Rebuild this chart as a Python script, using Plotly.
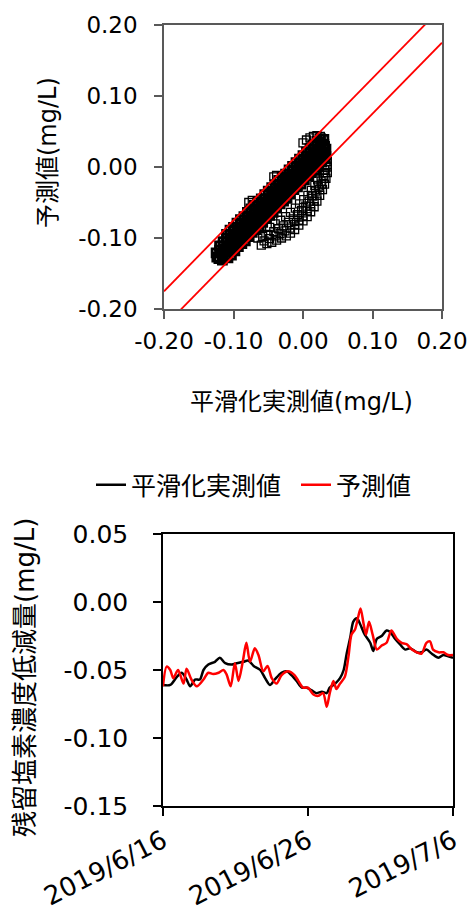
import plotly.graph_objects as go
import pandas as pd

# ---------------- scatter data (smoothed actual vs predicted) ----------------
core_x_1 = [-0.110,-0.105,-0.100,-0.095,-0.090,-0.085,-0.080,-0.075,-0.070,-0.065,-0.060,-0.055,-0.050,-0.045,-0.040,-0.035,-0.030,-0.025,-0.020,-0.015,-0.010,-0.005,0.000,0.005,0.010,0.015,0.020,0.025]
core_y_1 = [-0.095,-0.089,-0.085,-0.079,-0.074,-0.070,-0.064,-0.059,-0.054,-0.049,-0.045,-0.039,-0.034,-0.029,-0.025,-0.019,-0.014,-0.010,-0.004,0.001,0.006,0.011,0.016,0.021,0.026,0.031,0.036,0.040]
core_x_2 = [-0.120,-0.115,-0.110,-0.105,-0.100,-0.095,-0.090,-0.085,-0.080,-0.075,-0.070,-0.065,-0.060,-0.055,-0.050,-0.045,-0.040,-0.035,-0.030,-0.025,-0.020,-0.015,-0.010,-0.005,0.000,0.005,0.010,0.015,0.020,0.025,0.030]
core_y_2 = [-0.111,-0.105,-0.100,-0.095,-0.090,-0.085,-0.080,-0.075,-0.069,-0.065,-0.060,-0.055,-0.050,-0.045,-0.039,-0.035,-0.030,-0.025,-0.020,-0.015,-0.010,-0.005,0.000,0.005,0.010,0.015,0.020,0.025,0.030,0.035,0.039]
core_x_3 = [-0.125,-0.120,-0.115,-0.110,-0.105,-0.100,-0.095,-0.090,-0.085,-0.080,-0.075,-0.070,-0.065,-0.060,-0.055,-0.050,-0.045,-0.040,-0.035,-0.030,-0.025,-0.020,-0.015,-0.010,-0.005,0.000,0.005,0.010,0.015,0.020,0.025,0.030]
core_y_3 = [-0.121,-0.117,-0.111,-0.105,-0.101,-0.097,-0.091,-0.085,-0.081,-0.077,-0.071,-0.065,-0.061,-0.057,-0.051,-0.045,-0.041,-0.037,-0.031,-0.025,-0.021,-0.017,-0.011,-0.005,-0.001,0.004,0.009,0.013,0.019,0.024,0.028,0.032]
core_x_4 = [-0.124,-0.119,-0.114,-0.109,-0.104,-0.099,-0.094,-0.089,-0.084,-0.079,-0.074,-0.069,-0.064,-0.059,-0.054,-0.049,-0.044,-0.039,-0.034,-0.029,-0.024,-0.019,-0.014,-0.009,-0.004,0.001,0.006,0.011,0.016,0.021,0.026,0.031]
core_y_4 = [-0.127,-0.121,-0.116,-0.111,-0.106,-0.101,-0.097,-0.091,-0.086,-0.081,-0.076,-0.072,-0.066,-0.061,-0.056,-0.051,-0.046,-0.041,-0.036,-0.031,-0.027,-0.021,-0.016,-0.011,-0.006,-0.001,0.004,0.009,0.014,0.019,0.024,0.029]
core_x_5 = [-0.121,-0.116,-0.111,-0.106,-0.101,-0.096,-0.091,-0.086,-0.081,-0.076,-0.071,-0.066,-0.061,-0.056,-0.051,-0.046,-0.041,-0.036,-0.031,-0.026,-0.021,-0.016,-0.011,-0.006,-0.001,0.004,0.009,0.014,0.019,0.024,0.029,0.033]
core_y_5 = [-0.129,-0.125,-0.119,-0.113,-0.109,-0.105,-0.099,-0.093,-0.089,-0.085,-0.079,-0.073,-0.069,-0.065,-0.059,-0.053,-0.049,-0.045,-0.039,-0.033,-0.029,-0.025,-0.019,-0.013,-0.009,-0.005,0.001,0.006,0.011,0.015,0.021,0.025]
core_x_6 = [-0.116,-0.111,-0.106,-0.101,-0.096,-0.091,-0.086,-0.081,-0.076,-0.071,-0.066,-0.061,-0.056,-0.051,-0.046,-0.041,-0.036,-0.031,-0.026,-0.021,-0.016,-0.011,-0.006,-0.001,0.004,0.009,0.014,0.019,0.024,0.029]
core_y_6 = [-0.131,-0.125,-0.120,-0.115,-0.110,-0.105,-0.100,-0.095,-0.090,-0.085,-0.080,-0.075,-0.070,-0.065,-0.060,-0.055,-0.050,-0.045,-0.040,-0.035,-0.030,-0.025,-0.020,-0.015,-0.010,-0.005,0.000,0.005,0.010,0.015]
core_x_7 = [-0.108,-0.103,-0.098,-0.093,-0.088,-0.083,-0.078,-0.073,-0.068,-0.063,-0.058,-0.053,-0.048,-0.043,-0.038,-0.033,-0.028,-0.023,-0.018,-0.013,-0.008,-0.003,0.002,0.007,0.012,0.017,0.022,0.027,0.032]
core_y_7 = [-0.128,-0.124,-0.118,-0.112,-0.108,-0.104,-0.098,-0.092,-0.088,-0.084,-0.078,-0.072,-0.068,-0.064,-0.058,-0.052,-0.048,-0.044,-0.038,-0.032,-0.028,-0.024,-0.018,-0.012,-0.008,-0.004,0.002,0.007,0.012]

fringe_x_a = [-0.060,-0.052,-0.045,-0.038,-0.031,-0.024,-0.018,-0.012,-0.006,0.000,0.006,0.011,0.016,0.020,0.024,0.028,0.031,0.033,0.035,0.035,0.035,0.034]
fringe_y_a = [-0.110,-0.108,-0.106,-0.103,-0.100,-0.097,-0.093,-0.088,-0.082,-0.076,-0.070,-0.063,-0.056,-0.048,-0.040,-0.032,-0.024,-0.016,-0.008,0.000,0.008,0.016]
fringe_x_d = [-0.056,-0.048,-0.040,-0.033,-0.026,-0.019,-0.012,-0.006,0.000,0.006,0.011,0.016,0.020,0.024,0.027,0.030,0.032,0.033]
fringe_y_d = [-0.104,-0.101,-0.097,-0.094,-0.090,-0.086,-0.081,-0.075,-0.069,-0.062,-0.055,-0.048,-0.040,-0.032,-0.024,-0.016,-0.008,0.002]
fringe_x_b = [-0.065,-0.058,-0.050,-0.042,-0.035,-0.028,-0.021,-0.014,-0.008,-0.002,0.004,0.009,0.014,0.018,0.022,0.026,0.029,0.031]
fringe_y_b = [-0.100,-0.098,-0.095,-0.091,-0.087,-0.083,-0.078,-0.073,-0.067,-0.061,-0.055,-0.048,-0.041,-0.034,-0.027,-0.020,-0.012,-0.004]
fringe_x_c = [-0.048,-0.040,-0.032,-0.025,-0.018,-0.011,-0.005,0.001,0.007,0.012,0.017,0.021]
fringe_y_c = [-0.085,-0.080,-0.075,-0.070,-0.064,-0.058,-0.052,-0.046,-0.040,-0.033,-0.026,-0.018]
upper_x = [-0.078,-0.073,-0.042,-0.038,0.000,0.005,0.010,0.015,0.020,0.025]
upper_y = [-0.050,-0.047,-0.014,-0.012,0.034,0.038,0.041,0.043,0.044,0.043]

# +/- 0.025 reference band
band_x = [-0.2, 0.2]
band_upper = [-0.175, 0.225]
band_lower = [-0.225, 0.175]

scatter_ticks = [-0.2, -0.1, 0.0, 0.1, 0.2]
scatter_ticktext = ["-0.20", "-0.10", "0.00", "0.10", "0.20"]

# ---------------- time series ----------------
start_date = "2019-06-16"
actual_hours = [0,12,23,31,39,45,53,61,67,75,86,94,103,114,122,133,141,150,161,169,177,185,196,205,213,221,230,238,246,254,263,271,276,285,293,299,304,310,315,321,326,334,343,348,354,362,370,376,384,392,401,409,420,428,436,445,456,464,472,480]
actual_vals = [-0.061,-0.061,-0.055,-0.052,-0.057,-0.062,-0.057,-0.057,-0.050,-0.046,
               -0.044,-0.041,-0.045,-0.046,-0.045,-0.044,-0.043,-0.047,-0.050,-0.056,
               -0.061,-0.057,-0.052,-0.051,-0.054,-0.058,-0.063,-0.063,-0.065,-0.067,
               -0.066,-0.067,-0.063,-0.060,-0.056,-0.050,-0.038,-0.026,-0.0145,-0.012,
               -0.016,-0.024,-0.030,-0.036,-0.027,-0.025,-0.021,-0.022,-0.027,-0.031,
               -0.035,-0.034,-0.037,-0.037,-0.035,-0.038,-0.041,-0.039,-0.040,-0.041]
pred_hours = [0,6,12,17,25,34,39,47,56,67,75,83,92,100,105,112,119,125,132,138,
              144,152,158,166,173,180,188,196,207,218,224,232,240,249,257,265,271,276,282,287,
              293,301,307,312,318,323,327,332,336,341,347,354,362,370,378,387,395,403,412,420,
              428,436,442,447,456,464,472,480]
pred_vals = [-0.062,-0.0475,-0.050,-0.056,-0.050,-0.060,-0.049,-0.057,-0.062,-0.057,
             -0.052,-0.053,-0.052,-0.050,-0.053,-0.062,-0.045,-0.058,-0.044,-0.030,
             -0.044,-0.034,-0.039,-0.051,-0.047,-0.056,-0.060,-0.054,-0.051,-0.054,
             -0.058,-0.063,-0.063,-0.068,-0.069,-0.067,-0.077,-0.067,-0.058,-0.064,
             -0.060,-0.055,-0.040,-0.024,-0.020,-0.011,-0.0047,-0.016,-0.024,-0.0145,
             -0.024,-0.035,-0.032,-0.030,-0.021,-0.027,-0.030,-0.031,-0.035,-0.037,
             -0.038,-0.030,-0.029,-0.035,-0.037,-0.037,-0.039,-0.039]

ts_date_ticks = ["2019-06-16", "2019-06-26", "2019-07-06"]
ts_date_text = ["2019/6/16", "2019/6/26", "2019/7/6"]
ts_y_ticks = [-0.15, -0.10, -0.05, 0.0, 0.05]
ts_y_text = ["-0.15", "-0.10", "-0.05", "0.00", "0.05"]

t0 = pd.Timestamp(start_date)
actual_t = [t0 + pd.Timedelta(hours=h) for h in actual_hours]
pred_t = [t0 + pd.Timedelta(hours=h) for h in pred_hours]

core_x = core_x_1 + core_x_2 + core_x_3 + core_x_4 + core_x_5 + core_x_6 + core_x_7
core_y = core_y_1 + core_y_2 + core_y_3 + core_y_4 + core_y_5 + core_y_6 + core_y_7
edge_x = fringe_x_a + fringe_x_d + fringe_x_b + fringe_x_c + upper_x
edge_y = fringe_y_a + fringe_y_d + fringe_y_b + fringe_y_c + upper_y

W, H = 469, 912
FONT = "DejaVu Sans, Noto Sans CJK JP, sans-serif"

fig = go.Figure()
fig.add_trace(go.Scatter(x=edge_x, y=edge_y, mode="markers", xaxis="x", yaxis="y", showlegend=False,
                         marker=dict(symbol="square-open", size=8, color="black",
                                     line=dict(width=1.3, color="black"))))
fig.add_trace(go.Scatter(x=core_x, y=core_y, mode="markers", xaxis="x", yaxis="y", showlegend=False,
                         marker=dict(symbol="square-open", size=8, color="black",
                                     line=dict(width=2.8, color="black"))))
fig.add_trace(go.Scatter(x=band_x, y=band_upper, mode="lines", xaxis="x", yaxis="y", showlegend=False,
                         line=dict(color="#ff0000", width=1.8)))
fig.add_trace(go.Scatter(x=band_x, y=band_lower, mode="lines", xaxis="x", yaxis="y", showlegend=False,
                         line=dict(color="#ff0000", width=1.8)))
fig.add_trace(go.Scatter(x=actual_t, y=actual_vals, mode="lines", xaxis="x2", yaxis="y2",
                         name="平滑化実測値", legend="legend",
                         line=dict(color="black", width=2.5, shape="spline", smoothing=0.8)))
fig.add_trace(go.Scatter(x=pred_t, y=pred_vals, mode="lines", xaxis="x2", yaxis="y2",
                         name="予測値", legend="legend2",
                         line=dict(color="#ff0000", width=2.5, shape="spline", smoothing=0.8)))

gray = "#595959"
common = dict(showgrid=False, zeroline=False, showline=True, mirror=True, ticks="outside",
              ticklen=8, automargin=False)
legend_common = dict(orientation="h", xanchor="left", y=1-485/H, yanchor="middle",
                     font=dict(size=25), bgcolor="rgba(0,0,0,0)", itemwidth=30)
fig.update_layout(
    width=W, height=H,
    margin=dict(l=0, r=0, t=0, b=0, autoexpand=False),
    paper_bgcolor="white", plot_bgcolor="white",
    font=dict(family=FONT, color="black"),
    xaxis=dict(domain=[164/W, 442/W], anchor="y", range=[-0.2, 0.2],
               tickvals=scatter_ticks, ticktext=scatter_ticktext, tickangle=0,
               linecolor=gray, tickcolor=gray, linewidth=1.5, tickwidth=1.5,
               tickfont=dict(size=23), ticklabelstandoff=3, **common),
    yaxis=dict(domain=[1-309/H, 1-25/H], anchor="x", range=[-0.2, 0.2],
               tickvals=scatter_ticks, ticktext=scatter_ticktext,
               linecolor=gray, tickcolor=gray, linewidth=1.5, tickwidth=1.5,
               tickfont=dict(size=23), ticklabelstandoff=12, **common),
    xaxis2=dict(domain=[163/W, 453/W], anchor="y2", type="date",
                range=[ts_date_ticks[0], ts_date_ticks[-1]],
                tickvals=ts_date_ticks, ticktext=ts_date_text, tickangle=-27,
                linecolor="black", tickcolor="black", linewidth=1.5, tickwidth=1.5,
                tickfont=dict(size=26), ticklabelstandoff=0, **common),
    yaxis2=dict(domain=[1-806/H, 1-534/H], anchor="x2", range=[-0.15, 0.05],
                tickvals=ts_y_ticks, ticktext=ts_y_text,
                linecolor="black", tickcolor="black", linewidth=1.5, tickwidth=1.5,
                tickfont=dict(size=25), ticklabelstandoff=20, **common),
    legend=dict(x=91/W, **legend_common),
    legend2=dict(x=296/W, **legend_common),
    annotations=[
        dict(text="予測値(mg/L)", x=48/W, y=1-153/H, xref="paper", yref="paper",
             textangle=-90, showarrow=False, font=dict(size=24), xanchor="center", yanchor="middle"),
        dict(text="平滑化実測値(mg/L)", x=301/W, y=1-402/H, xref="paper", yref="paper",
             showarrow=False, font=dict(size=24), xanchor="center", yanchor="middle"),
        dict(text="残留塩素濃度低減量(mg/L)", x=25/W, y=1-678/H, xref="paper", yref="paper",
             textangle=-90, showarrow=False, font=dict(size=26), xanchor="center", yanchor="middle"),
    ],
)

fig.write_html("out.html", config={"displayModeBar": False},
               post_script="document.body.style.margin='0';document.body.style.padding='0';")
